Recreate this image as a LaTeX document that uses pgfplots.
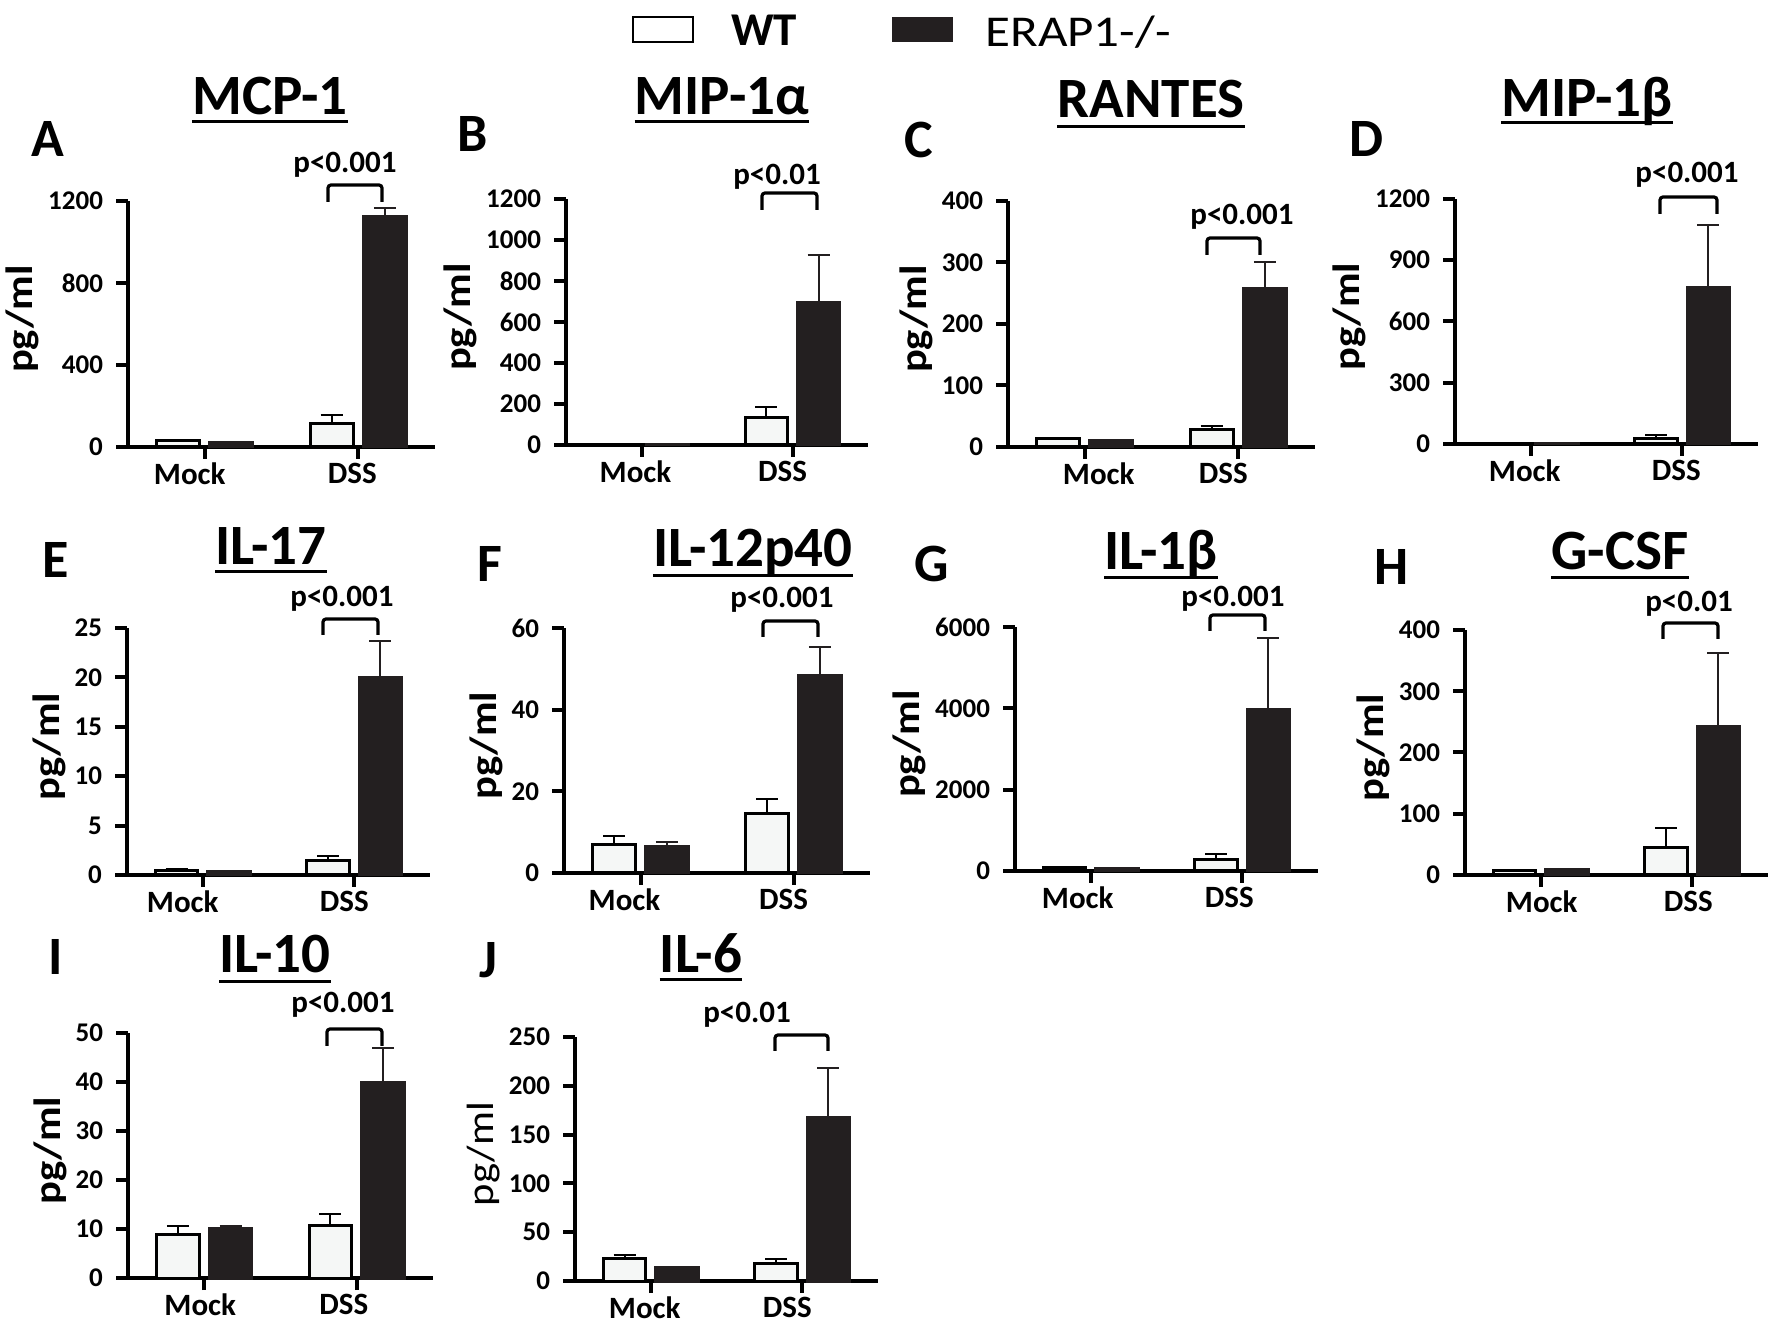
\documentclass[border=0pt]{standalone}
\usepackage{fontspec}
\setmainfont{Carlito}
\usepackage{pgfplots}
\pgfplotsset{compat=1.18}
\definecolor{barblk}{RGB}{35,31,32}
\definecolor{barwt}{RGB}{245,247,246}

\newcommand{\xl}[2]{\hbox to 0pt{\hss\kern#1\kern#1#2\hss}}

\pgfplotsset{
  cyto/.style={
    scale only axis, clip=false,
    axis lines=left,
    axis line style={line width=2pt, -, black},
    xmin=-0.5, xmax=1.5, ymin=0,
    xtick={0,1},
    tick align=outside, major tick length=6pt,
    tick style={line width=2pt, black},
    y tick label style={font=\fontsize{13.5}{13.5}\selectfont\bfseries, xshift=-3pt},
    x tick label style={font=\fontsize{15.5}{16}\selectfont\bfseries, yshift=1.5pt},
    /pgf/number format/assume math mode=true,
    /pgf/number format/1000 sep={},
    scaled y ticks=false,
    ylabel={\scalebox{1.12}[1]{pg/ml}},
    ylabel style={font=\fontsize{19}{19}\selectfont\bfseries, inner sep=1pt, at={(ticklabel cs:0.52)}},
  },
  wt/.style={ybar, bar width=0.28, bar shift=0pt, draw=black, line width=1.5pt, fill=barwt,
     error bars/.cd, y dir=plus, y explicit, error mark=-,
     error bar style={line width=1pt, black},
     error mark options={rotate=90, line width=1pt, black, mark size=5.5pt}},
  ko/.style={ybar, bar width=0.28, bar shift=0pt, draw=barblk, line width=1.5pt, fill=barblk,
     error bars/.cd, y dir=plus, y explicit, error mark=-,
     error bar style={line width=1pt, barblk},
     error mark options={rotate=90, line width=1pt, barblk, mark size=5.5pt}},
}

\newcommand{\ttl}[4]{%
  \node[anchor=base, inner sep=0pt, font=\fontsize{28.5}{28.5}\selectfont\bfseries] (t) at (#1,#2) {#4};
  \coordinate (u) at (#1,#3);
  \draw[line width=1.5pt] (t.west |- u) -- (t.east |- u);
}
\newcommand{\plet}[3]{\node[anchor=base, inner sep=0pt, font=\fontsize{27}{27}\selectfont\bfseries] at (#1,#2) {#3};}
\newcommand{\pval}[7]{%
  \node[anchor=base, inner sep=0pt, font=\fontsize{15.5}{15.5}\selectfont\bfseries] at (#1,#2) {#3};
  \draw[line width=1.6pt, rounded corners=1.5pt] (#4,#7) -- (#4,#6) -- (#5,#6) -- (#5,#7);
}

\begin{document}
\begin{tikzpicture}
\path[use as bounding box] (0,0) rectangle (886pt,664pt);

% A MCP-1
\begin{axis}[cyto, at={(64pt,440.5pt)}, anchor=south west, width=153.5pt, height=123pt,
  ymax=1200, ytick={0,400,800,1200},
  xticklabels={\xl{-7.5pt}{Mock},\xl{-3pt}{DSS}}]
\addplot[wt] coordinates {(-0.173,30) +- (0,2) (0.827,115) +- (0,40)};
\addplot[ko] coordinates {(0.173,20) +- (0,1) (1.173,1122) +- (0,45)};
\end{axis}

% B MIP-1a
\begin{axis}[cyto, at={(283pt,441.5pt)}, anchor=south west, width=151pt, height=123pt,
  ymax=1200, ytick={0,200,400,600,800,1000,1200},
  xticklabels={\xl{-3pt}{Mock},\xl{-5pt}{DSS}}]
\addplot[wt] coordinates {(-0.173,4) +- (0,1) (0.827,133) +- (0,52)};
\addplot[ko] coordinates {(0.173,3) +- (0,1) (1.173,693) +- (0,235)};
\end{axis}

% C RANTES
\begin{axis}[cyto, at={(504pt,440.5pt)}, anchor=south west, width=153.5pt, height=123pt,
  ymax=400, ytick={0,100,200,300,400},
  xticklabels={\xl{7pt}{\raisebox{3pt}{Mock}},\xl{-7.5pt}{DSS}}]
\addplot[wt] coordinates {(-0.173,13) +- (0,1) (0.827,29) +- (0,5)};
\addplot[ko] coordinates {(0.173,11) +- (0,1) (1.173,257) +- (0,44)};
\end{axis}

% D MIP-1b
\begin{axis}[cyto, at={(727.5pt,442pt)}, anchor=south west, width=151.5pt, height=122.5pt,
  ymax=1200, ytick={0,300,600,900,1200},
  xticklabels={\xl{-3pt}{Mock},\xl{-3pt}{DSS}}]
\addplot[wt] coordinates {(-0.173,2) +- (0,1) (0.827,25) +- (0,20)};
\addplot[ko] coordinates {(0.173,2) +- (0,1) (1.173,767) +- (0,304)};
\end{axis}

% E IL-17
\begin{axis}[cyto, at={(63.5pt,226.5pt)}, anchor=south west, width=151.5pt, height=123.5pt,
  ymax=25, ytick={0,5,10,15,20,25},
  xticklabels={\xl{-10pt}{Mock},\xl{-5pt}{DSS}}]
\addplot[wt] coordinates {(-0.173,0.5) +- (0,0.1) (0.827,1.5) +- (0,0.45)};
\addplot[ko] coordinates {(0.173,0.35) +- (0,0.1) (1.173,20) +- (0,3.7)};
\end{axis}

% F IL-12p40
\begin{axis}[cyto, at={(282pt,227.5pt)}, anchor=south west, width=153pt, height=122.5pt,
  ymax=60, ytick={0,20,40,60},
  xticklabels={\xl{-8pt}{Mock},\xl{-5pt}{DSS}}]
\addplot[wt] coordinates {(-0.173,7.1) +- (0,2.0) (0.827,14.5) +- (0,3.7)};
\addplot[ko] coordinates {(0.173,6.5) +- (0,1.1) (1.173,48.3) +- (0,7.1)};
\end{axis}

% G IL-1b
\begin{axis}[cyto, at={(507.5pt,228.5pt)}, anchor=south west, width=151.5pt, height=122pt,
  ymax=6000, ytick={0,2000,4000,6000},
  xticklabels={\xl{-6.5pt}{Mock},\xl{-6.5pt}{DSS}}]
\addplot[wt] coordinates {(-0.173,90) +- (0,10) (0.827,290) +- (0,140)};
\addplot[ko] coordinates {(0.173,60) +- (0,5) (1.173,3970) +- (0,1770)};
\end{axis}

% H G-CSF
\begin{axis}[cyto, at={(732.5pt,226.5pt)}, anchor=south west, width=151.5pt, height=122.5pt,
  ymax=400, ytick={0,100,200,300,400},
  xticklabels={\xl{0.5pt}{Mock},\xl{-2pt}{DSS}}]
\addplot[wt] coordinates {(-0.173,7) +- (0,1) (0.827,45) +- (0,31)};
\addplot[ko] coordinates {(0.173,9) +- (0,1) (1.173,243) +- (0,119)};
\end{axis}

% I IL-10
\begin{axis}[cyto, at={(64pt,25pt)}, anchor=south west, width=152.5pt, height=122.5pt,
  ymax=50, ytick={0,10,20,30,40,50},
  xticklabels={\xl{-2pt}{Mock},\xl{-6.5pt}{DSS}}]
\addplot[wt] coordinates {(-0.173,8.8) +- (0,1.9) (0.827,10.7) +- (0,2.4)};
\addplot[ko] coordinates {(0.173,10.2) +- (0,0.4) (1.173,40.0) +- (0,6.9)};
\end{axis}

% J IL-6
\begin{axis}[cyto, at={(287.5pt,23.5pt)}, anchor=south west, width=151.5pt, height=122pt,
  ymax=250, ytick={0,50,100,150,200,250},
  xticklabels={\xl{-3pt}{Mock},\xl{-7.5pt}{DSS}},
  ylabel style={font=\fontsize{19}{19}\selectfont\mdseries}]
\addplot[wt] coordinates {(-0.173,23) +- (0,3.5) (0.827,18) +- (0,5)};
\addplot[ko] coordinates {(0.173,14) +- (0,0.5) (1.173,168) +- (0,50)};
\end{axis}

\begin{scope}[x=0.5pt, y=-0.5pt, shift={(0pt,664pt)}]
% legend
\draw[line width=1pt, fill=white] (633,17) rectangle (693,42);
\node[anchor=base, inner sep=0pt, font=\fontsize{23.5}{23.5}\selectfont\bfseries] at (764,46) {WT};
\fill[barblk] (892,17) rectangle (953,42);
\node[anchor=base west, inner sep=0pt, font=\fontsize{22}{22}\selectfont] at (985,47) {\scalebox{1.16}[1]{ERAP1-/-}};

% titles
\ttl{270}{115}{122}{MCP-1}
\ttl{722}{115}{122}{MIP-1α}
\ttl{1151}{118}{127}{RANTES}
\ttl{1587}{117}{123}{MIP-1β}
\ttl{271}{565}{572}{IL-17}
\ttl{753}{567}{576}{IL-12p40}
\ttl{1161}{570}{578}{IL-1β}
\ttl{1620}{570}{578}{G-CSF}
\ttl{275}{973}{982}{IL-10}
\ttl{701}{973}{980}{IL-6}

% panel letters
\plet{48}{157}{A}
\plet{473}{152}{B}
\plet{919}{158}{C}
\plet{1367}{157}{D}
\plet{56}{578}{E}
\plet{490}{582}{F}
\plet{932}{582}{G}
\plet{1392}{585}{H}
\plet{56}{975}{I}
\plet{488}{978}{J}

% p-values
\pval{345}{173}{p<0.001}{328}{382}{185}{202}
\pval{777}{185}{p<0.01}{762}{817}{193}{210}
\pval{1242}{225}{p<0.001}{1207}{1260}{238}{255}
\pval{1687}{183}{p<0.001}{1660}{1717}{197}{214}
\pval{342}{607}{p<0.001}{323}{378}{619}{635}
\pval{782}{608}{p<0.001}{763}{818}{621}{637}
\pval{1233}{607}{p<0.001}{1210}{1265}{615}{631}
\pval{1689}{612}{p<0.01}{1663}{1718}{623}{639}
\pval{343}{1013}{p<0.001}{327}{382}{1029}{1046}
\pval{747}{1023}{p<0.01}{775}{828}{1035}{1051}
\end{scope}
\end{tikzpicture}
\end{document}
